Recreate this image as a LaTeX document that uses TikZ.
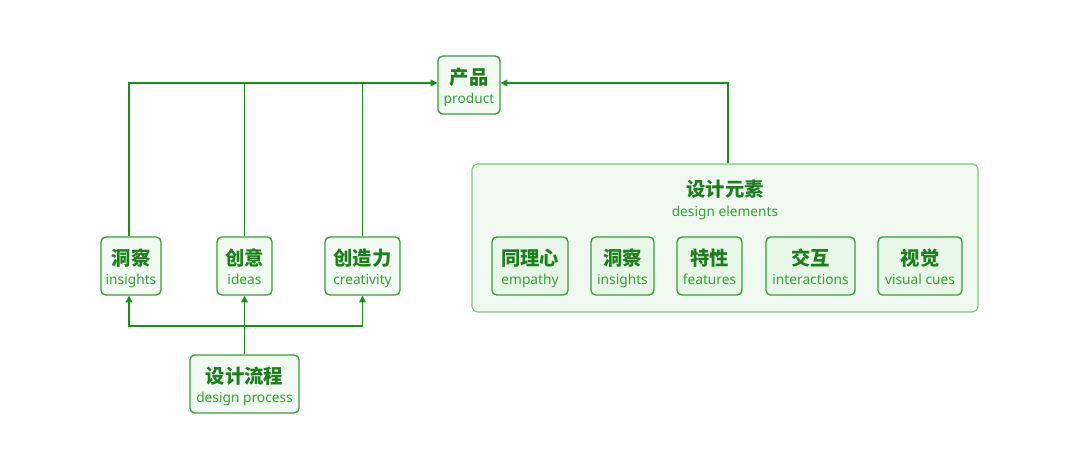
\documentclass[tikz,border=0pt]{standalone}
\usepackage{fontspec}
\setmainfont{Noto Sans}
\newfontfamily\cjk{Noto Sans CJK SC}
\usetikzlibrary{arrows.meta}
\definecolor{lineg}{HTML}{1F8A1F}
\definecolor{boxg}{HTML}{3A9A3A}
\definecolor{fillg}{HTML}{F2FBF2}
\definecolor{cng}{HTML}{1E7D1E}
\definecolor{eng}{HTML}{3C9C3C}
\definecolor{bigline}{HTML}{7CC47C}
\definecolor{bigfill}{HTML}{F0F9F0}
\definecolor{innerfill}{HTML}{E8F6E8}
\tikzset{
  box/.style={draw=boxg, fill=fillg, line width=1pt, rounded corners=3.5pt, inner sep=0pt, minimum height=43.5pt},
  innerbox/.style={box, fill=innerfill},
  bigbox/.style={draw=bigline, fill=bigfill, line width=0.8pt, rounded corners=4pt, inner sep=0pt},
  cn/.style={inner sep=0pt, text=cng, font=\cjk\bfseries\fontsize{14.5pt}{16pt}\selectfont},
  en/.style={inner sep=0pt, anchor=base, text=eng, font=\fontsize{10.3pt}{12pt}\selectfont},
  conn/.style={draw=lineg, line width=1.05pt},
  arr/.style={conn, -{Triangle[length=5pt,width=5pt]}}
}
\newcommand\dbox[7][box]{%
  \node[#1, minimum width=#4*0.75pt] (#2) at (#3) {};
  \node[cn] (#2-cn) at ([yshift=6pt]#2.center) {#5};
  \node[en] (#2-en) at ([yshift=-13.8pt]#2.center) {#6#7};
}
\begin{document}
\begin{tikzpicture}[x=0.75pt,y=-0.75pt]
\useasboundingbox (0,0) rectangle (1080,473);
% big container
\node[bigbox, minimum width=506*0.75pt, minimum height=148*0.75pt] (elem) at (725,238) {};
\node[cn] (elem-cn) at (725,189) {设计元素};
\node[en] (elem-en) at (725,216.4) {design elements};
% boxes
\dbox{prod}{469,85}{62}{产品}{product}{}
\dbox{ins}{131,266}{60}{洞察}{insights}{}
\dbox{ide}{244.5,266}{55}{创意}{ideas}{}
\dbox{cre}{362.5,266}{75}{创造力}{creativity}{}
\dbox{proc}{244.5,384}{109}{设计流程}{design process}{}
\dbox[innerbox]{emp}{530,266}{76}{同理心}{empathy}{}
\dbox[innerbox]{ins2}{622.5,266}{63}{洞察}{insights}{}
\dbox[innerbox]{fea}{709.5,266}{65}{特性}{features}{}
\dbox[innerbox]{int}{810.5,266}{89}{交互}{interactions}{}
\dbox[innerbox]{vis}{920,266}{84}{视觉}{visual cues}{}
% connectors to product
\coordinate (pw) at ([yshift=1.5pt]prod.west);
\coordinate (pe) at ([yshift=1.5pt]prod.east);
\draw[arr] ([xshift=-1.5pt]ins.north) |- (pw);
\draw[conn] (ide.north) -- (ide.north |- pw);
\draw[conn] (cre.north) -- (cre.north |- pw);
\draw[arr] ([xshift=2.25pt]elem.north) |- (pe);
% connectors from process
\coordinate (j) at (244.5,326);
\draw[arr] (proc.north) -- (ide.south);
\draw[arr] (j) -| ([xshift=-1.5pt]ins.south);
\draw[arr] (j) -| (cre.south);
\end{tikzpicture}
\end{document}
